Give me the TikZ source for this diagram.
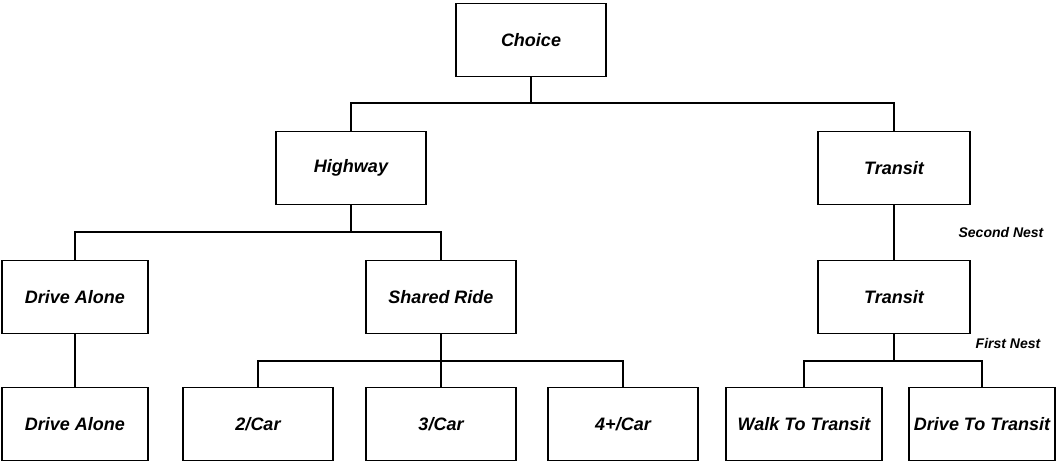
\documentclass[tikz,border=0pt]{standalone}
\usepackage{fontspec}
\setmainfont{Liberation Sans}
\usetikzlibrary{positioning}
\tikzset{
  choicebox/.style={draw, line width=1.3pt, minimum width=150pt, minimum height=73pt, inner sep=0pt, font=\fontsize{18}{20}\selectfont\bfseries\itshape},
  nestlabel/.style={font=\fontsize{14}{16}\selectfont\bfseries\itshape},
  link/.style={line width=1.1pt}
}

\begin{document}
\begin{tikzpicture}[x=1pt,y=-1pt]
  \useasboundingbox (0,0) rectangle (1060,461);
  % top of the tree
  \node (choice) [choicebox] at (531,40) {Choice};
  % second nest
  \node (highway) [choicebox] at (351,168) {Highway};
  \node (transit) [choicebox, minimum width=152pt] at (894,168) {Transit};
  % first nest
  \node (alone) [choicebox, minimum width=146pt] at (75,297) {Drive Alone};
  \node (shared) [choicebox] at (441,297) {Shared Ride};
  \node (transitsub) [choicebox, minimum width=152pt] at (894,297) {Transit};
  % modes
  \node (aloneleaf) [choicebox, minimum width=146pt] at (75,424) {Drive Alone};
  \node (car2) [choicebox] at (258,424) {2/Car};
  \node (car3) [choicebox] at (441,424) {3/Car};
  \node (car4) [choicebox] at (623,424) {4+/Car};
  \node (walk) [choicebox, minimum width=156pt] at (804,424) {Walk To Transit};
  \node (drive) [choicebox, minimum width=146pt] at (982,424) {Drive To Transit};

  \node (second) [nestlabel] at (1001,232) {Second Nest};
  \node (first) [nestlabel] at (1008,343) {First Nest};

  % branches
  \coordinate (busa) at (0,103);
  \coordinate (busb) at (0,232);
  \coordinate (busc) at (0,361);
  \draw[link] (choice.south) -- (choice.south |- busa);
  \draw[link] (highway.north) |- (choice.south |- busa) -| (transit.north);
  \draw[link] (highway.south) -- (highway.south |- busb);
  \draw[link] (alone.north) |- (highway.south |- busb) -| (shared.north);
  \draw[link] (transit) -- (transitsub);
  \draw[link] (alone) -- (aloneleaf);
  \draw[link] (shared) -- (car3);
  \draw[link] (car2.north) |- (shared.south |- busc) -| (car4.north);
  \draw[link] (transitsub.south) -- (transitsub.south |- busc);
  \draw[link] (walk.north) |- (transitsub.south |- busc) -| (drive.north);
\end{tikzpicture}
\end{document}
